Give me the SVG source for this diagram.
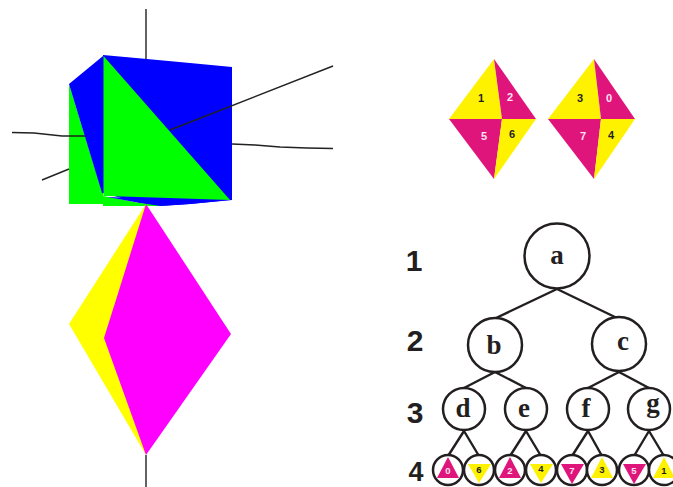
<svg xmlns="http://www.w3.org/2000/svg" width="673" height="487" viewBox="0 0 673 487">
<style>
.axis{stroke:#222;stroke-width:1.4;fill:none}
.edge{stroke:#231f20;stroke-width:2.400;fill:none}
.node{fill:#fff;stroke:#231f20;stroke-width:2.500}
.y{fill:#fff200}.m{fill:#e0157c}
.big{font:bold 27px "Liberation Serif",serif;fill:#231f20;text-anchor:middle}
.lvl{font:bold 30px "Liberation Sans",sans-serif;fill:#231f20;text-anchor:middle}
.s{font:bold 11px "Liberation Sans",sans-serif;text-anchor:middle}
.l{font-size:9.500px}
.k{fill:#231f20}.w{fill:#fbe3ef}
</style>
<g id="cube">
<path fill="#00f" d="M103 55L147 59L190 63L232 67V200L190 204L160 206L140 203L103 193V56Z"/>
<path fill="#0f0" d="M69 84V204H103V206H168L140 203L103 196V193L102 192Z"/>
<path fill="#00f" d="M69 84L103 56V193L102 193Z"/>
<path fill="#0f0" d="M103.500 56L230 200L107 196L103.500 196Z"/>
<path fill="#00f" d="M107 197L135 198L180 201L230 200L190 204L160 206L135 202Z"/>
</g>
<g id="axes3d">
<path class="axis" d="M146 9V59M12 132.500L34 133L62 136L85 136M42 180L69 169M232 144L255 145L280 147L307 148L333 148.500M170 130L333 66M146 455V487"/>
</g>
<g id="diamond3d">
<path fill="#ff0" d="M146 204L69 324L146 455Z"/>
<path fill="#f0f" d="M146 204L231 334L146 455L104 338Z"/>
</g>
<g id="diamond-left">
<path class="y" d="M494 59L449 119H502Z"/><path class="m" d="M494 59L536 119H502Z"/>
<path class="m" d="M449 119H502L494 179Z"/><path class="y" d="M536 119H502L494 179Z"/>
<text class="s k" x="481" y="102">1</text><text class="s w" x="510" y="101">2</text>
<text class="s w" x="484" y="140">5</text><text class="s k" x="512" y="138">6</text>
</g>
<g id="diamond-right">
<path class="y" d="M594 59L548 119H601Z"/><path class="m" d="M594 59L635 119H601Z"/>
<path class="m" d="M548 119H601L594 179Z"/><path class="y" d="M635 119H601L594 179Z"/>
<text class="s k" x="580" y="102">3</text><text class="s w" x="609" y="102">0</text>
<text class="s w" x="583" y="140">7</text><text class="s k" x="611" y="139">4</text>
</g>
<g id="connectors">
<path class="edge" d="M557 289L496 318M557 289L617 318M495 372L464 388M495 372L526 388M619 372L588 388M619 372L649 388M464 431L448 456M464 431L479 456M526 431L510 456M526 431L541 456M588 431L572 456M588 431L602 456M649 431L634 456M649 431L664 456"/>
</g>
<g id="level-labels">
<text class="lvl" x="414" y="271">1</text><text class="lvl" x="415" y="351">2</text><text class="lvl" x="415" y="423">3</text><text class="lvl" x="416" y="481" style="font-size:27px">4</text>
</g>
<g id="node-a"><circle class="node" cx="557" cy="256" r="32.500"/><text class="big" x="557" y="264">a</text></g>
<g id="node-b"><circle class="node" cx="495" cy="345" r="27"/><text class="big" x="494" y="354">b</text></g>
<g id="node-c"><circle class="node" cx="619" cy="344" r="27"/><text class="big" x="623" y="350">c</text></g>
<g id="node-d"><circle class="node" cx="464" cy="409" r="21"/><text class="big" x="463" y="417">d</text></g>
<g id="node-e"><circle class="node" cx="526" cy="409" r="21"/><text class="big" x="524" y="417">e</text></g>
<g id="node-f"><circle class="node" cx="588" cy="409" r="21"/><text class="big" x="586" y="417">f</text></g>
<g id="node-g"><circle class="node" cx="649" cy="409" r="21"/><text class="big" x="653" y="412">g</text></g>
<g id="leaf-0"><circle class="node" cx="448" cy="470" r="15"/><path class="m" d="M448 457L459 478H437Z"/><text class="s l w" x="448" y="474">0</text></g>
<g id="leaf-6"><circle class="node" cx="479" cy="470" r="15"/><path class="y" d="M468 464H491L479 483Z"/><text class="s l k" x="479" y="473">6</text></g>
<g id="leaf-2"><circle class="node" cx="510" cy="470" r="15"/><path class="m" d="M510 457L521 478H499Z"/><text class="s l w" x="510" y="474">2</text></g>
<g id="leaf-4"><circle class="node" cx="541" cy="470" r="15"/><path class="y" d="M530 464H553L541 483Z"/><text class="s l k" x="541" y="472">4</text></g>
<g id="leaf-7"><circle class="node" cx="572" cy="470" r="15"/><path class="m" d="M561 464H584L572 484Z"/><text class="s l w" x="572" y="474">7</text></g>
<g id="leaf-3"><circle class="node" cx="602" cy="470" r="15"/><path class="y" d="M602 457L613 478H591Z"/><text class="s l k" x="602" y="473">3</text></g>
<g id="leaf-5"><circle class="node" cx="634" cy="470" r="15"/><path class="m" d="M623 464H646L634 484Z"/><text class="s l w" x="634" y="474">5</text></g>
<g id="leaf-1"><circle class="node" cx="664" cy="470" r="15"/><path class="y" d="M664 457L675 478H653Z"/><text class="s l k" x="664" y="474">1</text></g>
</svg>
